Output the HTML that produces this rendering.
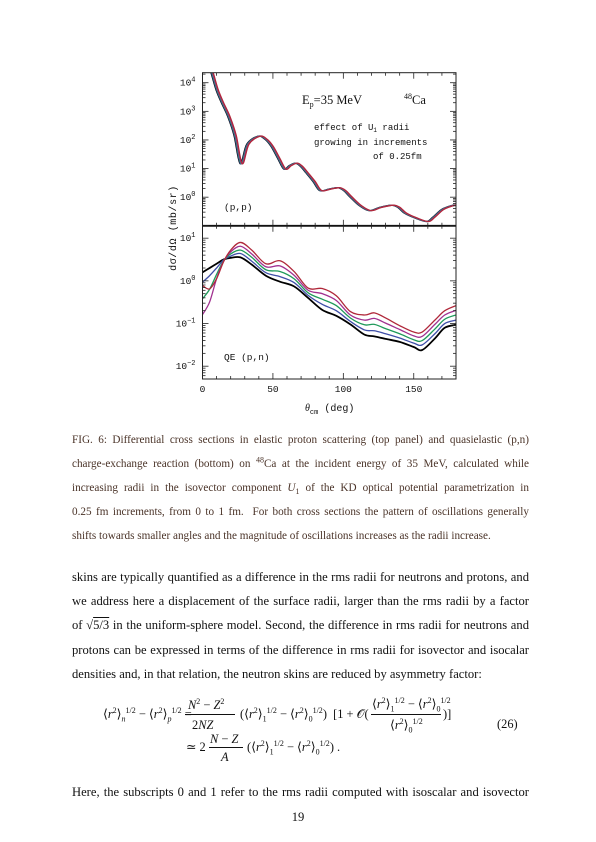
<!DOCTYPE html>
<html><head><meta charset="utf-8">
<style>
body{margin:0;background:#fff;}
#page{position:relative;width:596px;height:842px;background:#fff;overflow:hidden;font-family:"Liberation Serif",serif;color:#111;}
.cap{position:absolute;left:72px;width:457px;font-size:11.2px;color:#4a3328;text-align:justify;text-align-last:justify;white-space:nowrap;line-height:14px;}
.body{position:absolute;left:72px;width:457px;font-size:12.6px;text-align:justify;text-align-last:justify;white-space:nowrap;line-height:15px;}
.eq{position:absolute;font-size:12.4px;white-space:nowrap;line-height:14px;}
sup,sub{font-size:8px;line-height:0;}
</style></head><body>
<div id="page">
<svg id="chart" width="596" height="420" style="position:absolute;left:0;top:0" font-family="Liberation Mono, monospace">
</svg>

<div class="cap" style="top:433px">FIG. 6: Differential cross sections in elastic proton scattering (top panel) and quasielastic (p,n)</div>
<div class="cap" style="top:457px">charge-exchange reaction (bottom) on <sup>48</sup>Ca at the incident energy of 35 MeV, calculated while</div>
<div class="cap" style="top:481px">increasing radii in the isovector component <i>U</i><sub>1</sub> of the KD optical potential parametrization in</div>
<div class="cap" style="top:505px">0.25 fm increments, from 0 to 1 fm. &nbsp;For both cross sections the pattern of oscillations generally</div>
<div class="cap" style="top:529px;text-align-last:left">shifts towards smaller angles and the magnitude of oscillations increases as the radii increase.</div>

<div class="body" style="top:570px">skins are typically quantified as a difference in the rms radii for neutrons and protons, and</div>
<div class="body" style="top:594px">we address here a displacement of the surface radii, larger than the rms radii by a factor</div>
<div class="body" style="top:618px">of √<span style="text-decoration:overline">5/3</span> in the uniform-sphere model. Second, the difference in rms radii for neutrons and</div>
<div class="body" style="top:643px">protons can be expressed in terms of the difference in rms radii for isovector and isocalar</div>
<div class="body" style="top:667px;text-align-last:left">densities and, in that relation, the neutron skins are reduced by asymmetry factor:</div>

<div>
<div class="eq" style="left:103px;top:707px">⟨<i>r</i><sup>2</sup>⟩<sub><i>n</i></sub><sup>1/2</sup> − ⟨<i>r</i><sup>2</sup>⟩<sub><i>p</i></sub><sup>1/2</sup> =</div>
<div class="eq" style="left:188px;top:698px"><i>N</i><sup>2</sup> − <i>Z</i><sup>2</sup></div>
<div style="position:absolute;left:185px;top:714px;width:50px;border-top:0.8px solid #111"></div>
<div class="eq" style="left:192px;top:718px">2<i>NZ</i></div>
<div class="eq" style="left:240px;top:707px">(⟨<i>r</i><sup>2</sup>⟩<sub>1</sub><sup>1/2</sup> − ⟨<i>r</i><sup>2</sup>⟩<sub>0</sub><sup>1/2</sup>)&nbsp; [1 + 𝒪(</div>
<div class="eq" style="left:372px;top:697px">⟨<i>r</i><sup>2</sup>⟩<sub>1</sub><sup>1/2</sup> − ⟨<i>r</i><sup>2</sup>⟩<sub>0</sub><sup>1/2</sup></div>
<div style="position:absolute;left:371px;top:714px;width:70px;border-top:0.8px solid #111"></div>
<div class="eq" style="left:390px;top:718px">⟨<i>r</i><sup>2</sup>⟩<sub>0</sub><sup>1/2</sup></div>
<div class="eq" style="left:443px;top:707px">)]</div>
<div class="eq" style="left:497px;top:717px">(26)</div>
<div class="eq" style="left:186px;top:740px">≃ 2</div>
<div class="eq" style="left:210px;top:732px"><i>N</i> − <i>Z</i></div>
<div style="position:absolute;left:209px;top:747px;width:34px;border-top:0.8px solid #111"></div>
<div class="eq" style="left:221px;top:750px"><i>A</i></div>
<div class="eq" style="left:247px;top:740px">(⟨<i>r</i><sup>2</sup>⟩<sub>1</sub><sup>1/2</sup> − ⟨<i>r</i><sup>2</sup>⟩<sub>0</sub><sup>1/2</sup>) .</div>
</div>

<div class="body" style="top:785px">Here, the subscripts 0 and 1 refer to the rms radii computed with isoscalar and isovector</div>
<div style="position:absolute;left:0;width:596px;top:810px;text-align:center;font-size:12.6px">19</div>
</div>

<script>
// ---- data ----
const topAngles = [0,4,7.6,11.2,15,19.5,24,28.3,33,40.8,46,50.3,55,59.3,63,67.4,71,75.2,80,84.7,91,97.7,102,106,113,119.8,127,135.6,140,145,152,160.5,165,171,176,180];
const topLog    = [5.6,4.9,4.35,3.75,3.3,2.82,2.15,1.17,1.85,2.13,2.02,1.77,1.35,0.98,1.1,1.19,1.08,0.84,0.55,0.23,0.28,0.33,0.22,0.02,-0.3,-0.47,-0.36,-0.28,-0.35,-0.56,-0.72,-0.85,-0.7,-0.44,-0.33,-0.27];
const topShift  = [1.6,1.2,0.8,0.4,0]; // deg shift per radius step (black..red)
const qeAngles  = [0,5,10,15,20,27,35,45,55,65,75,85,95,105,115,122,130,140,150,156,165,172,180];
const qeBlack   = [0.2,0.3,0.4,0.5,0.54,0.55,0.38,0.12,-0.02,-0.13,-0.4,-0.68,-0.82,-1.02,-1.26,-1.3,-1.36,-1.43,-1.55,-1.62,-1.35,-1.1,-1.03];
const qeBlue    = [-0.03,0.12,0.3,0.49,0.58,0.64,0.46,0.19,0.1,-0.04,-0.34,-0.55,-0.7,-0.95,-1.15,-1.17,-1.24,-1.34,-1.46,-1.5,-1.24,-1.0,-0.92];
const qeGreen   = [-0.42,-0.2,0.15,0.47,0.63,0.72,0.55,0.26,0.22,0.05,-0.28,-0.43,-0.58,-0.87,-1.03,-1.02,-1.12,-1.24,-1.38,-1.4,-1.13,-0.9,-0.8];
const qeMagenta = [-0.79,-0.5,0.05,0.46,0.68,0.81,0.63,0.33,0.35,0.13,-0.22,-0.3,-0.46,-0.8,-0.92,-0.88,-0.99,-1.14,-1.29,-1.3,-1.02,-0.8,-0.69];
const qeRed     = [-0.11,-0.19,0.05,0.45,0.72,0.9,0.72,0.4,0.47,0.22,-0.17,-0.18,-0.35,-0.72,-0.8,-0.75,-0.87,-1.05,-1.2,-1.2,-0.92,-0.7,-0.58];
const colors    = ["#000000","#3f4fa8","#1f9a5a","#a0308f","#b0283a"];
const xTicks    = [0,50,100,150];
const topYTicks = [4,3,2,1,0];
const botYTicks = [1,0,-1,-2];

const svg = document.getElementById('chart');
const NS = 'http://www.w3.org/2000/svg';
const L=202.5,R=456,T1=72.7,B1=225.8,B2=379;
const x = d => L + (d/180)*(R-L);
const y1 = v => T1 + (4.35 - v)*(B1-T1)/5.35;
const y2 = v => B1 + (1.29 - v)*(B2-B1)/3.59;
function el(tag, attrs){const e=document.createElementNS(NS,tag);for(const k in attrs)e.setAttribute(k,attrs[k]);svg.appendChild(e);return e;}
function smooth(pts){
  let d='M'+pts[0][0]+','+pts[0][1];
  for(let i=0;i<pts.length-1;i++){
    const p0=pts[Math.max(0,i-1)],p1=pts[i],p2=pts[i+1],p3=pts[Math.min(pts.length-1,i+2)];
    const c1=[p1[0]+(p2[0]-p0[0])/6,p1[1]+(p2[1]-p0[1])/6];
    const c2=[p2[0]-(p3[0]-p1[0])/6,p2[1]-(p3[1]-p1[1])/6];
    d+=' C'+c1[0]+','+c1[1]+' '+c2[0]+','+c2[1]+' '+p2[0]+','+p2[1];
  }
  return d;
}
const defs=el('defs',{});
const cp1=document.createElementNS(NS,'clipPath');cp1.setAttribute('id','c1');
const r1=document.createElementNS(NS,'rect');r1.setAttribute('x',L);r1.setAttribute('y',T1);r1.setAttribute('width',R-L);r1.setAttribute('height',B1-T1);cp1.appendChild(r1);defs.appendChild(cp1);
const cp2=document.createElementNS(NS,'clipPath');cp2.setAttribute('id','c2');
const r2=document.createElementNS(NS,'rect');r2.setAttribute('x',L);r2.setAttribute('y',B1);r2.setAttribute('width',R-L);r2.setAttribute('height',B2-B1);cp2.appendChild(r2);defs.appendChild(cp2);

topShift.forEach((s,i)=>{
  const pts=topAngles.map((a,j)=>[x(a-s),y1(topLog[j])]);
  const p=el('path',{d:smooth(pts),fill:'none',stroke:colors[i],'stroke-width':1.3,'clip-path':'url(#c1)'});
  
  
});
[qeBlack,qeBlue,qeGreen,qeMagenta,qeRed].forEach((arr,i)=>{
  const pts=qeAngles.map((a,j)=>[x(a),y2(arr[j])]);
  const p=el('path',{d:smooth(pts),fill:'none',stroke:colors[i],'stroke-width':i==0?1.8:1.3,'clip-path':'url(#c2)'});
  
  
});

el('rect',{x:L,y:T1,width:R-L,height:B2-T1,fill:'none',stroke:'#222','stroke-width':1});
el('line',{x1:L,y1:B1,x2:R,y2:B1,stroke:'#111','stroke-width':1.8});
for(let d=0;d<=180;d+=10){
  const len=d%50==0?6:3;
  [[T1,1],[B1,-1],[B1,1],[B2,-1]].forEach(([yy,dir])=>el('line',{x1:x(d),y1:yy,x2:x(d),y2:yy+dir*len,stroke:'#222','stroke-width':0.8}));
}
xTicks.forEach(t=>{const tx=el('text',{x:x(t),y:B2+13,'font-size':9.5,'text-anchor':'middle',fill:'#111'});tx.textContent=t;
 });
function yTicks(fy,lo,hi,labels){
  for(let dcd=Math.floor(lo);dcd<=Math.ceil(hi);dcd++){
    for(let m=1;m<10;m++){
      const v=dcd+Math.log10(m); if(v<lo||v>hi)continue;
      const len=m==1?6:3;
      el('line',{x1:L,y1:fy(v),x2:L+len,y2:fy(v),stroke:'#222','stroke-width':0.8});
      el('line',{x1:R,y1:fy(v),x2:R-len,y2:fy(v),stroke:'#222','stroke-width':0.8});
    }
  }
  labels.forEach(t=>{
    const tx=el('text',{x:L-7,y:fy(t)+3,'font-size':9.5,'text-anchor':'end',fill:'#111'});
    tx.innerHTML='10<tspan dy="-4" font-size="7">'+(t<0?'−'+(-t):t)+'</tspan>';
    
  });
}
yTicks(y1,-1,4.35,topYTicks);
yTicks(y2,-2.3,1.29,botYTicks);

function txt(s,xx,yy,size,name,extra){const t=el('text',Object.assign({x:xx,y:yy,'font-size':size,fill:'#111'},extra||{}));t.innerHTML=s;return t;}
txt('E<tspan dy="3" font-size="8">p</tspan><tspan dy="-3">=35 MeV</tspan>',302,104,12.5,'energy-label',{'font-family':'Liberation Serif, serif'});
txt('<tspan dy="-5" font-size="8">48</tspan><tspan dy="5">Ca</tspan>',404,104,12.5,'nucleus-label',{'font-family':'Liberation Serif, serif'});
txt('effect of U<tspan dy="2" font-size="6">1</tspan><tspan dy="-2"> radii</tspan>',314,130,9,'annotation-line-1');
txt('growing in increments',314,145,9,'annotation-line-2');
txt('of 0.25fm',373,159,9,'annotation-line-3');
txt('(p,p)',224,210,9.5,'panel-label-pp');
txt('QE (p,n)',224,360,9.5,'panel-label-qe');
txt('<tspan font-family="Liberation Serif, serif" font-style="italic">θ</tspan><tspan dy="3" font-size="7">cm</tspan><tspan dy="-3"> (deg)</tspan>',305,411,10,'x-axis-title');
txt('dσ/dΩ (mb/sr)',0,0,10,'y-axis-title',{transform:'translate(176,228) rotate(-90)','text-anchor':'middle','letter-spacing':'0.6'});
</script>
</body></html>
